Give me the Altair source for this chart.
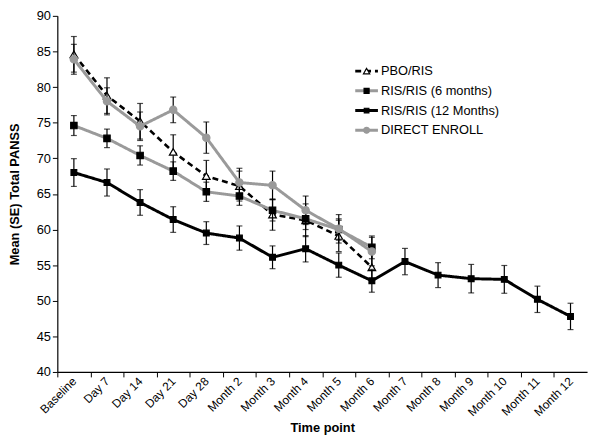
import altair as alt
import pandas as pd

timepoints = ["Baseline", "Day 7", "Day 14", "Day 21", "Day 28", "Month 2", "Month 3",
              "Month 4", "Month 5", "Month 6", "Month 7", "Month 8", "Month 9",
              "Month 10", "Month 11", "Month 12"]

series_names = ["PBO/RIS", "RIS/RIS (6 months)", "RIS/RIS (12 Months)", "DIRECT ENROLL"]

pbo_mean = [84.6, 78.8, 75.2, 70.9, 67.5, 66.1, 62.1, 61.3, 59.1, 54.7]
pbo_se = [2.5, 2.5, 2.5, 2.4, 2.2, 2.1, 2.2, 2.3, 2.2, 2.1]

ris6_mean = [74.6, 72.8, 70.4, 68.2, 65.3, 64.7, 62.7, 61.5, 60.0, 57.5]
ris6_se = [1.4, 1.3, 1.35, 1.3, 1.35, 1.3, 1.5, 1.5, 1.5, 1.6]

ris12_mean = [68.0, 66.6, 63.8, 61.4, 59.5, 58.8, 56.1, 57.3, 55.0, 52.8,
              55.5, 53.6, 53.1, 53.0, 50.2, 47.8]
ris12_se = [1.95, 1.9, 1.8, 1.8, 1.6, 1.7, 1.6, 1.85, 1.7, 1.6,
            1.85, 1.75, 2.0, 1.95, 1.85, 1.85]

direct_mean = [83.9, 78.0, 74.5, 76.8, 72.9, 66.6, 66.2, 62.7, 60.1, 56.9]
direct_se = [2.1, 1.9, 2.0, 1.8, 2.2, 2.0, 2.0, 2.0, 2.0, 2.0]

FONT = "Arial, Liberation Sans, sans-serif"
W, H = 537, 361
step = W / len(timepoints)

x_enc = alt.X(
    "time:N",
    sort=timepoints,
    scale=alt.Scale(type="point", domain=timepoints, padding=0.5),
    axis=alt.Axis(
        title="Time point", titleFontSize=13, titleFontWeight="bold", titleFont=FONT,
        titleColor="black", titleY=56, titleBaseline="middle",
        labelAngle=-45, labelAlign="right", labelBaseline="middle",
        labelFontSize=12, labelFont=FONT, labelColor="black", labelPadding=2,
        tickOffset=-step / 2, labelOffset=step / 2, tickSize=5,
        tickColor="black", domainColor="black", domainWidth=1.2, tickWidth=1,
        grid=False,
    ),
)

y_scale = alt.Scale(domain=[40, 90], nice=False, zero=False)
y_axis = alt.Axis(
    title="Mean (SE) Total PANSS", titleFontSize=13, titleFontWeight="bold",
    titleFont=FONT, titleColor="black", titlePadding=15,
    values=list(range(40, 91, 5)), labelFontSize=13, labelFont=FONT,
    labelColor="black", tickSize=5, tickColor="black", domainColor="black",
    domainWidth=1.2, grid=False,
)

styles = {
    "PBO/RIS": dict(color="black", width=2.6, dash=[6, 4], shape="triangle-up",
                    fill="white", stroke="black", size=60, lsize=40),
    "RIS/RIS (6 months)": dict(color="#9a9a9a", width=3, dash=[1, 0], shape="square",
                               fill="black", stroke="black", size=42, lsize=26),
    "RIS/RIS (12 Months)": dict(color="black", width=3, dash=[1, 0], shape="square",
                                fill="black", stroke="black", size=34, lsize=22),
    "DIRECT ENROLL": dict(color="#9a9a9a", width=3, dash=[1, 0], shape="circle",
                          fill="#9a9a9a", stroke="#9a9a9a", size=55, lsize=36),
}

data_map = {
    "PBO/RIS": (pbo_mean, pbo_se),
    "RIS/RIS (6 months)": (ris6_mean, ris6_se),
    "RIS/RIS (12 Months)": (ris12_mean, ris12_se),
    "DIRECT ENROLL": (direct_mean, direct_se),
}

layers = []
for name in series_names:
    means, ses = data_map[name]
    st = styles[name]
    df = pd.DataFrame({"time": timepoints[:len(means)], "mean": means, "se": ses})
    df["lo"] = df["mean"] - df["se"]
    df["hi"] = df["mean"] + df["se"]
    base = alt.Chart(df)
    bar = base.mark_rule(color="black", strokeWidth=1.2).encode(
        x=x_enc, y=alt.Y("lo:Q", scale=y_scale, axis=y_axis), y2="hi:Q")
    cap_lo = base.mark_tick(color="black", thickness=1.2, size=6).encode(
        x=x_enc, y=alt.Y("lo:Q", scale=y_scale, axis=y_axis))
    cap_hi = base.mark_tick(color="black", thickness=1.2, size=6).encode(
        x=x_enc, y=alt.Y("hi:Q", scale=y_scale, axis=y_axis))
    line = base.mark_line(color=st["color"], strokeWidth=st["width"],
                          strokeDash=st["dash"]).encode(
        x=x_enc, y=alt.Y("mean:Q", scale=y_scale, axis=y_axis))
    pts = base.mark_point(shape=st["shape"], filled=True, fill=st["fill"],
                          stroke=st["stroke"], strokeWidth=1.2, size=st["size"],
                          opacity=1).encode(
        x=x_enc, y=alt.Y("mean:Q", scale=y_scale, axis=y_axis))
    layers += [bar, cap_lo, cap_hi, line, pts]

# legend
for i, name in enumerate(series_names):
    st = styles[name]
    ldf = pd.DataFrame({"series": [name]})
    yv = 56 + 20 * i
    lb = alt.Chart(ldf)
    layers.append(lb.mark_rule(color=st["color"], strokeWidth=st["width"],
                               strokeDash=st["dash"]).encode(
        x=alt.value(302), x2=alt.value(325), y=alt.value(yv)))
    layers.append(lb.mark_point(shape=st["shape"], filled=True, fill=st["fill"],
                                stroke=st["stroke"], strokeWidth=1.2, size=st["lsize"],
                                opacity=1).encode(x=alt.value(313.5), y=alt.value(yv)))
    layers.append(lb.mark_text(align="left", baseline="middle", fontSize=13, font=FONT,
                               color="black").encode(
        x=alt.value(328), y=alt.value(yv), text="series:N"))

chart = alt.layer(*layers).properties(
    width=W, height=H,
    padding={"left": 50, "top": 5, "right": 5, "bottom": 66},
    autosize=alt.AutoSizeParams(type="none"),
    background="white",
).configure_view(stroke=None)

chart.save("out.html", embed_options={"renderer": "svg", "actions": False})
